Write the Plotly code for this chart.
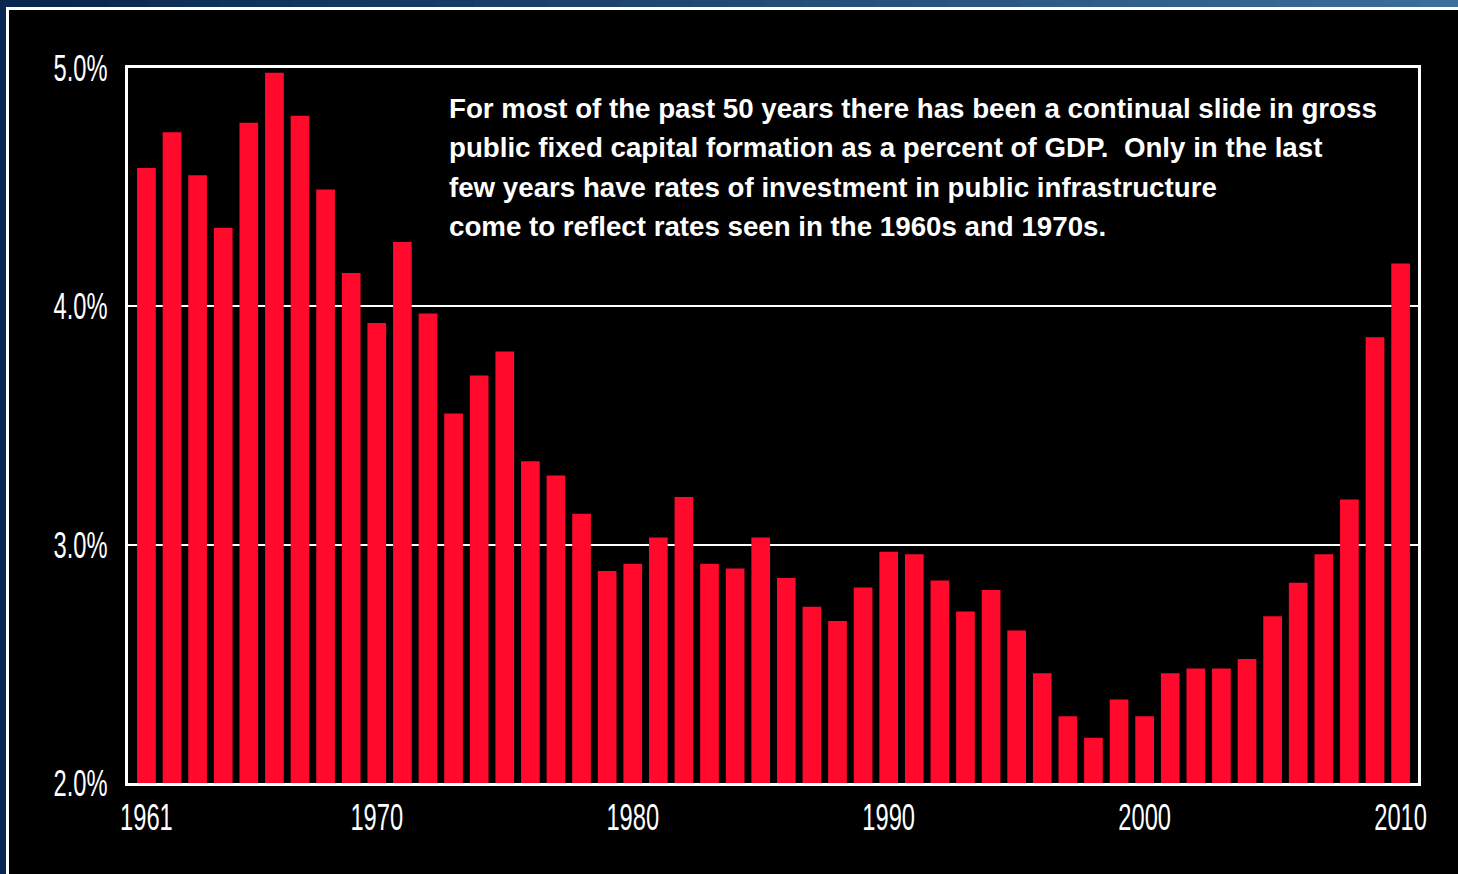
import plotly.graph_objects as go

# Gross public fixed capital formation, percent of GDP
years = list(range(1961, 2011))
share_of_gdp = [
    4.58, 4.73, 4.55, 4.33, 4.77, 4.98, 4.80, 4.49, 4.14, 3.93,
    4.27, 3.97, 3.55, 3.71, 3.81, 3.35, 3.29, 3.13, 2.89, 2.92,
    3.03, 3.20, 2.92, 2.90, 3.03, 2.86, 2.74, 2.68, 2.82, 2.97,
    2.96, 2.85, 2.72, 2.81, 2.64, 2.46, 2.28, 2.19, 2.35, 2.28,
    2.46, 2.48, 2.48, 2.52, 2.70, 2.84, 2.96, 3.19, 3.87, 4.18,
]
x_ticks = [1961, 1970, 1980, 1990, 2000, 2010]
y_ticks = [2.0, 3.0, 4.0, 5.0]
y_tick_text = ["2.0%", "3.0%", "4.0%", "5.0%"]
note_lines = [
    "For most of the past 50 years there has been a continual slide in gross",
    "public fixed capital formation as a percent of GDP.  Only in the last",
    "few years have rates of investment in public infrastructure",
    "come to reflect rates seen in the 1960s and 1970s.",
]

W, H = 1458, 874
ML, MR, MT, MB = 128, 40, 68, 91
PW, PH = W - ML - MR, H - MT - MB


def px_x(px):
    return (px - ML) / PW


def px_y(py):
    return (H - MB - py) / PH


TICK_FONT = "Liberation Sans, Arial, Helvetica, sans-serif"
BOLD = "Liberation Sans, Arial, Helvetica, sans-serif"

fig = go.Figure(
    go.Bar(
        x=years,
        y=share_of_gdp,
        marker=dict(color="#FF0A2D", line=dict(width=0)),
        hoverinfo="x+y",
    )
)

shapes = []
# blue frame strip along the top, shading from navy to steel blue
n_steps = 40
for i in range(n_steps):
    t = i / (n_steps - 1)
    r = int(8 + t * (60 - 8))
    g = int(38 + t * (110 - 38))
    b = int(78 + t * (155 - 78))
    x0 = W * i / n_steps
    x1 = W * (i + 1) / n_steps + 1
    shapes.append(dict(
        type="rect", xref="paper", yref="paper",
        x0=px_x(x0), x1=px_x(x1), y0=px_y(7), y1=px_y(-2),
        fillcolor=f"rgb({r},{g},{b})", line=dict(width=0), layer="below",
    ))
# blue strip on the left side
shapes.append(dict(
    type="rect", xref="paper", yref="paper",
    x0=px_x(-2), x1=px_x(6), y0=px_y(H + 2), y1=px_y(7),
    fillcolor="#082650", line=dict(width=0), layer="below",
))
# white border of the black panel
shapes.append(dict(
    type="line", xref="paper", yref="paper",
    x0=px_x(6), x1=px_x(W + 2), y0=px_y(8.5), y1=px_y(8.5),
    line=dict(color="white", width=3),
))
shapes.append(dict(
    type="line", xref="paper", yref="paper",
    x0=px_x(7.5), x1=px_x(7.5), y0=px_y(7), y1=px_y(H + 2),
    line=dict(color="white", width=3),
))

annotations = []
line_centers = [108, 147, 187, 226]
for text, yc in zip(note_lines, line_centers):
    annotations.append(dict(
        text=text, xref="paper", yref="paper",
        x=px_x(447), y=px_y(yc), xanchor="left", yanchor="middle",
        showarrow=False,
        font=dict(family=BOLD, size=27.7, color="white", weight="bold"),
    ))

fig.update_layout(
    width=W, height=H,
    margin=dict(l=ML, r=MR, t=MT, b=MB),
    paper_bgcolor="black",
    plot_bgcolor="black",
    bargap=0.27,
    showlegend=False,
    shapes=shapes,
    annotations=annotations,
    xaxis=dict(
        range=[1960.28, 2010.68],
        tickvals=x_ticks,
        ticktext=[str(v) for v in x_ticks],
        showgrid=False, zeroline=False,
        showline=True, linecolor="white", linewidth=3, mirror=True,
        ticks="", ticklabelstandoff=0,
        tickfont=dict(family=TICK_FONT, size=37, color="white"),
    ),
    yaxis=dict(
        range=[2.0, 5.0],
        tickvals=y_ticks,
        ticktext=y_tick_text,
        showgrid=True, gridcolor="white", gridwidth=2,
        zeroline=False,
        showline=True, linecolor="white", linewidth=3, mirror=True,
        ticks="", ticklabelstandoff=10,
        tickfont=dict(family=TICK_FONT, size=37, color="white"),
    ),
)

# Condense the axis tick labels horizontally (gothic condensed look)
condense_js = """
var gd = document.getElementById('{plot_id}');
function condenseTicks() {
  gd.querySelectorAll('.xtick text, .ytick text').forEach(function (t) {
    t.removeAttribute('textLength');
    var w = t.getComputedTextLength();
    t.setAttribute('textLength', (w * 0.64).toFixed(1));
    t.setAttribute('lengthAdjust', 'spacingAndGlyphs');
  });
}
condenseTicks();
gd.on('plotly_afterplot', condenseTicks);
"""

fig.write_html("out.html", post_script=condense_js)
